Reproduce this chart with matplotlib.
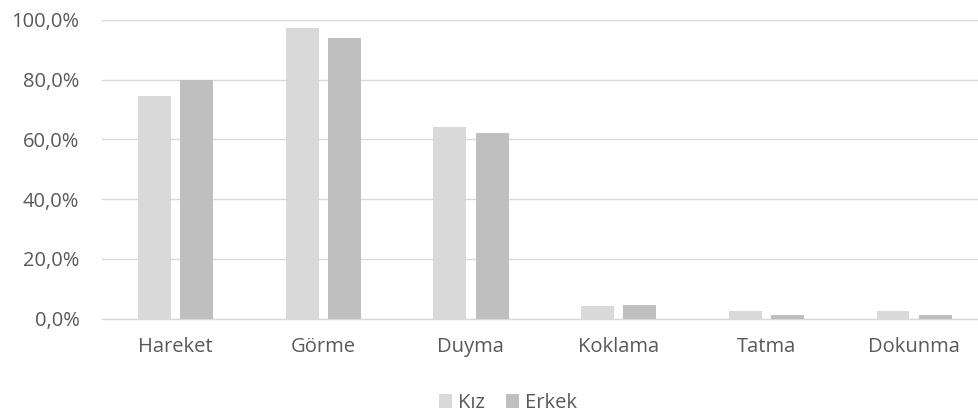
import numpy as np
import matplotlib.pyplot as plt
from matplotlib.ticker import FuncFormatter

categories = ['Hareket', 'Görme', 'Duyma', 'Koklama', 'Tatma', 'Dokunma']
kiz = [74.5, 97.3, 64.3, 4.1, 2.5, 2.5]
erkek = [80.0, 94.1, 62.0, 4.5, 1.2, 1.2]

plt.rcParams['font.family'] = ['Open Sans', 'DejaVu Sans']
txt = '#595959'

fig = plt.figure(figsize=(9.79, 4.16), dpi=100)
W, H = 979, 416
# axes runs a little past the right edge of the canvas
ax = fig.add_axes([101.6 / W, 97.5 / H, 886.4 / W, 298.5 / H])

x = np.arange(len(categories))
w = 0.223
off = 0.143
ax.bar(x - off, kiz, w, color='#d9d9d9', label='Kız', zorder=3)
ax.bar(x + off, erkek, w, color='#bfbfbf', label='Erkek', zorder=3)

ax.set_xlim(-0.5, len(categories) - 0.5)
ax.set_ylim(0, 100)
ax.set_yticks(np.arange(0, 101, 20))
ax.yaxis.set_major_formatter(FuncFormatter(lambda v, p: f'{v:.1f}%'.replace('.', ',')))
ax.set_xticks(x)
ax.set_xticklabels(categories)
ax.grid(axis='y', color='#d9d9d9', linewidth=1.0, zorder=0)
for s in ['top', 'right', 'left']:
    ax.spines[s].set_visible(False)
ax.spines['bottom'].set_color('#d9d9d9')
ax.spines['bottom'].set_linewidth(1.0)
ax.tick_params(axis='both', length=0, labelsize=14.5, labelcolor=txt)
ax.tick_params(axis='y', pad=16)
ax.tick_params(axis='x', pad=13)

fig.legend(loc='center', bbox_to_anchor=(508 / W, 1 - 403 / H), ncol=2,
           frameon=False, fontsize=14.5, labelcolor=txt, handlelength=0.65,
           handleheight=0.65, handletextpad=0.3, columnspacing=1.0)

fig.savefig('out.png', dpi=100)
